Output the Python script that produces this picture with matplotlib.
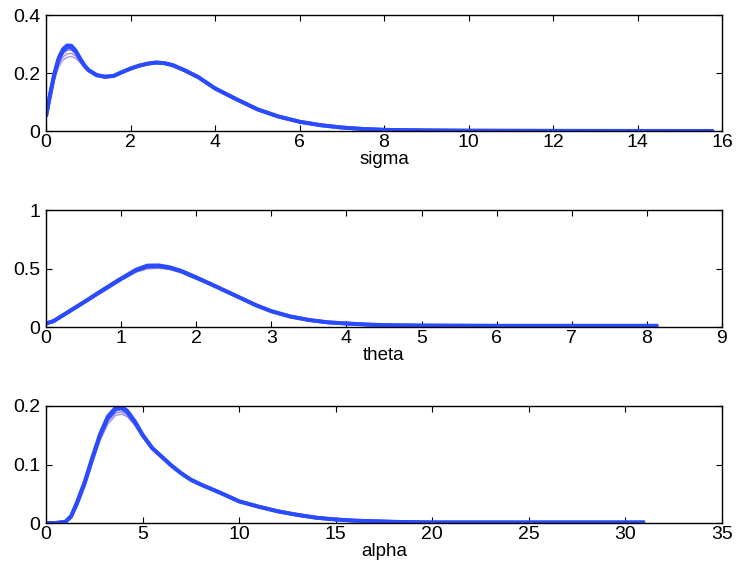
import numpy as np
import matplotlib
matplotlib.use("Agg")
import matplotlib.pyplot as plt

plt.rcParams['font.family'] = ['Liberation Sans', 'DejaVu Sans']

# sigma panel: runs differ only near the first peak, then share a tail
sigma_x = [0, 0.1, 0.2, 0.3, 0.4, 0.5, 0.6, 0.7, 0.8, 0.9, 1.0, 1.2,
           1.4, 1.6, 1.8, 2.0, 2.2, 2.4, 2.6, 2.8, 3.0, 3.3, 3.6, 4.0, 4.5,
           5.0, 5.5, 6.0, 6.5, 7.0, 7.5, 8.0, 9.0, 10.0, 12.0, 14.0, 15.8]
sigma_heads = [
    [0.05, 0.13, 0.20, 0.252, 0.282, 0.295, 0.294, 0.278, 0.252, 0.228, 0.211, 0.193],
    [0.05, 0.125, 0.195, 0.246, 0.275, 0.288, 0.288, 0.274, 0.250, 0.227, 0.210, 0.192],
    [0.05, 0.12, 0.19, 0.238, 0.266, 0.278, 0.279, 0.267, 0.246, 0.225, 0.209, 0.191],
    [0.05, 0.115, 0.183, 0.230, 0.255, 0.266, 0.268, 0.259, 0.241, 0.223, 0.208, 0.190],
    [0.05, 0.11, 0.176, 0.222, 0.245, 0.254, 0.257, 0.251, 0.237, 0.221, 0.206, 0.190],
]
sigma_tail = [0.187, 0.190, 0.203, 0.215, 0.225, 0.232, 0.236, 0.234, 0.227, 0.208,
              0.186, 0.147, 0.110, 0.075, 0.050, 0.032, 0.020, 0.012, 0.007, 0.004,
              0.002, 0.001, 0.0005, 0.0003, 0.0002]

theta_x = [0, 0.1, 0.25, 0.5, 0.75, 1.0, 1.2, 1.35, 1.5, 1.65, 1.8, 2.0,
           2.2, 2.4, 2.6, 2.8, 3.0, 3.25, 3.5, 3.75, 4.0, 4.3, 4.6, 5.0, 6.0, 7.0, 8.15]
theta_heads = [
    [0.03, 0.05, 0.11, 0.21, 0.315, 0.415, 0.490, 0.525, 0.527, 0.510, 0.480, 0.425],
    [0.03, 0.05, 0.11, 0.21, 0.310, 0.410, 0.485, 0.518, 0.520, 0.505, 0.475, 0.420],
    [0.03, 0.05, 0.105, 0.205, 0.305, 0.405, 0.475, 0.505, 0.510, 0.497, 0.470, 0.415],
    [0.03, 0.048, 0.10, 0.20, 0.300, 0.400, 0.468, 0.497, 0.502, 0.490, 0.465, 0.412],
]
theta_tail = [0.365, 0.305, 0.245, 0.185, 0.135, 0.090, 0.060, 0.040, 0.030, 0.020,
              0.015, 0.012, 0.010, 0.010, 0.010]

alpha_x = [0, 0.5, 1.0, 1.3, 1.6, 2.0, 2.4, 2.8, 3.2, 3.6, 3.9, 4.2, 4.6, 5.0,
           5.5, 6.0, 6.5, 7.0, 7.5, 8.0, 8.5, 9.0, 10, 11, 12, 13, 14, 15, 16, 18,
           20, 25, 28, 31]
alpha_heads = [
    [0, 0, 0.002, 0.012, 0.035, 0.070, 0.112, 0.152, 0.182, 0.197, 0.199, 0.192, 0.174, 0.151],
    [0, 0, 0.002, 0.011, 0.033, 0.068, 0.110, 0.150, 0.179, 0.194, 0.196, 0.190, 0.172, 0.150],
    [0, 0, 0.001, 0.009, 0.030, 0.064, 0.106, 0.145, 0.174, 0.188, 0.190, 0.185, 0.169, 0.148],
    [0, 0, 0.001, 0.008, 0.028, 0.061, 0.102, 0.141, 0.169, 0.184, 0.186, 0.182, 0.167, 0.147],
]
alpha_tail = [0.128, 0.113, 0.098, 0.085, 0.074, 0.066, 0.059, 0.052, 0.037, 0.028,
              0.020, 0.014, 0.009, 0.006, 0.004, 0.002, 0.001, 0.001, 0.001, 0.001]

sigma_yticks = [0, 0.2, 0.4]
theta_yticks = [0, 0.5, 1]
alpha_yticks = [0, 0.1, 0.2]

run_colors = ['#2a4bff', '#3550fb', '#7a62dc', '#9070d8', '#9a7ad6']


def drawPanel(ax, x, heads, tail, xlim, xticks, yticks, label):
    # purple (lower) runs first, thin, then blue on top
    for k in range(len(heads) - 1, -1, -1):
        y = heads[k] + tail
        if k < 2:
            ax.plot(x, y, c=run_colors[k], lw=2.8, solid_capstyle='butt')
        else:
            ax.plot(x, y, c=run_colors[k], lw=1.0, alpha=0.8)
    ax.set_xlim(xlim)
    ax.set_ylim(yticks[0], yticks[-1])
    ax.set_xticks(xticks)
    ax.set_xticklabels([('%g' % t) for t in xticks])
    ax.set_yticks(yticks)
    ax.set_yticklabels([('%g' % t) for t in yticks])
    ax.tick_params(direction='in', top=True, right=True, length=4,
                   labelsize=14, width=0.8)
    ax.tick_params(axis='x', pad=2)
    ax.tick_params(axis='y', pad=4)
    for s in ax.spines.values():
        s.set_linewidth(1.0)
    ax.set_xlabel(label, fontsize=13.5, labelpad=0)


fig = plt.figure(figsize=(7.4, 5.82), dpi=100)
W, H = 740.0, 582.0
left = 46 / W
width = 676 / W
asig = fig.add_axes([left, 1 - 131 / H, width, 116 / H])
athe = fig.add_axes([left, 1 - 327 / H, width, 117 / H])
aalp = fig.add_axes([left, 1 - 523 / H, width, 117 / H])

drawPanel(asig, sigma_x, sigma_heads, sigma_tail, (0, 16), list(range(0, 17, 2)), sigma_yticks, 'sigma')
drawPanel(athe, theta_x, theta_heads, theta_tail, (0, 9), list(range(0, 10)), theta_yticks, 'theta')
drawPanel(aalp, alpha_x, alpha_heads, alpha_tail, (0, 35), list(range(0, 36, 5)), alpha_yticks, 'alpha')

fig.savefig('out.png', dpi=100)
